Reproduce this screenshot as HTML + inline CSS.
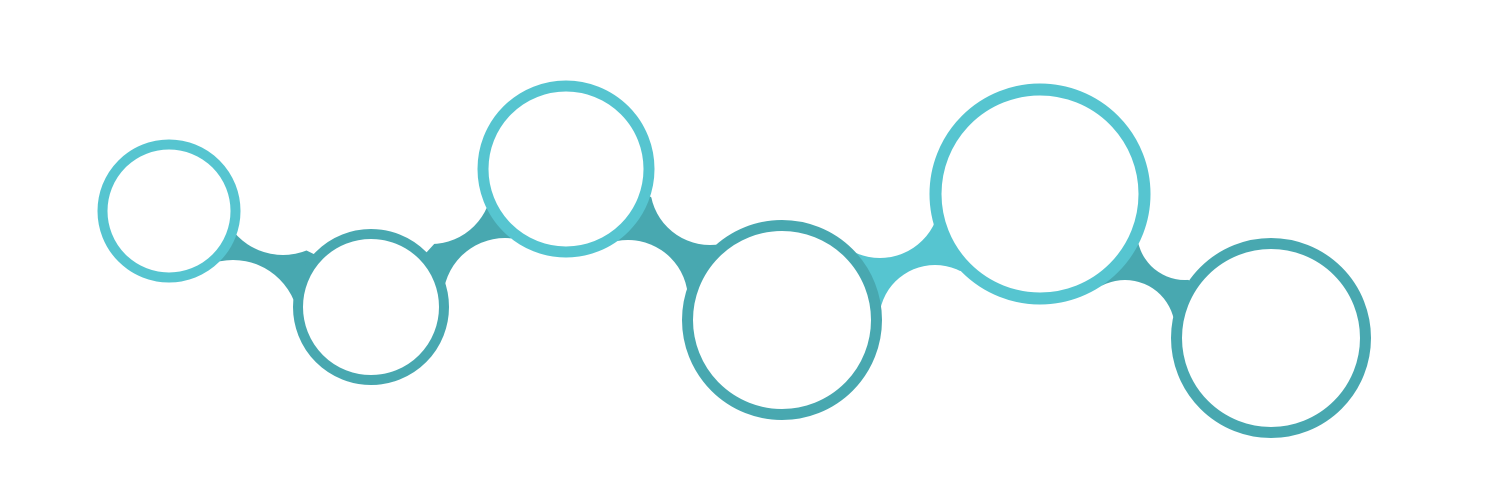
<!DOCTYPE html>
<html><head><meta charset="utf-8"><style>html,body{margin:0;padding:0;background:#fff}svg{display:block}</style></head>
<body>
<svg width="1500" height="500" viewBox="0 0 1500 500" xmlns="http://www.w3.org/2000/svg">
<polygon points="228,212 330,262 305,318 205,265" fill="#48A8B0"/>
<polygon points="415,265 488,185 525,240 440,295" fill="#48A8B0"/>
<polygon points="640,190 725,245 695,300 610,240" fill="#48A8B0"/>
<polygon points="850,250 935,205 965,268 875,325" fill="#56C5D0"/>
<polygon points="1130,235 1195,285 1180,325 1100,285" fill="#48A8B0"/>
<g fill="#fff">
<circle cx="283" cy="191" r="64"/>
<circle cx="233" cy="326" r="66"/>
<circle cx="431" cy="183" r="61"/>
<circle cx="505" cy="300" r="62"/>
<circle cx="710" cy="185" r="60"/>
<circle cx="628" cy="300" r="60"/>
<circle cx="880" cy="198" r="60"/>
<circle cx="935" cy="321" r="56"/>
<circle cx="1185" cy="232" r="48"/>
<circle cx="1125" cy="330" r="50"/>
</g>
<g fill="#fff">
<circle cx="169" cy="211" r="66.5" stroke="#56C5D0" stroke-width="10"/>
<circle cx="371" cy="307" r="73" stroke="#48A8B0" stroke-width="10"/>
<circle cx="566" cy="169" r="83" stroke="#56C5D0" stroke-width="11"/>
<circle cx="782" cy="320" r="94.5" stroke="#48A8B0" stroke-width="11"/>
<circle cx="1040" cy="194" r="104.5" stroke="#56C5D0" stroke-width="12"/>
<circle cx="1271" cy="338" r="94.5" stroke="#48A8B0" stroke-width="11"/>
</g>
</svg>
</body></html>
